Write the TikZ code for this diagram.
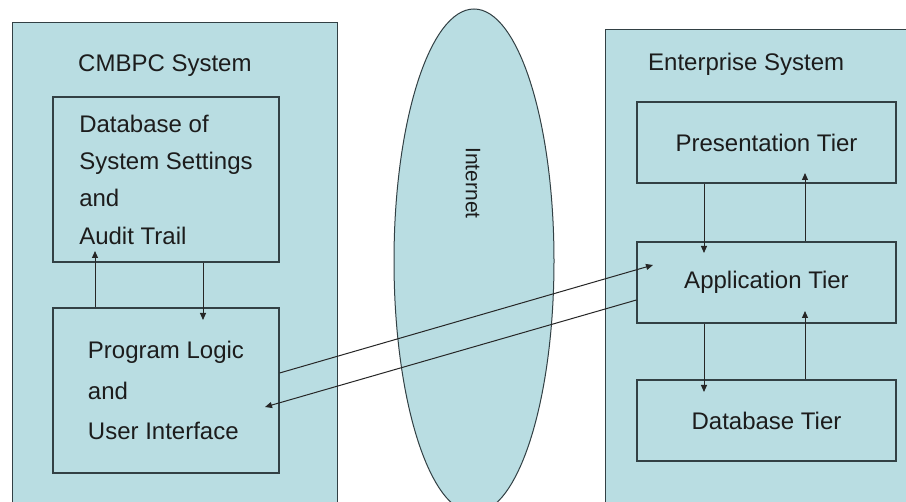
\documentclass[tikz,border=0pt]{standalone}
\usepackage{fontspec}
\setmainfont{Liberation Sans}
\usetikzlibrary{arrows.meta,shapes.geometric}
\definecolor{boxfill}{RGB}{185,221,226}
\definecolor{boxline}{RGB}{50,64,68}
\definecolor{txt}{RGB}{28,28,28}
\begin{document}
\begin{tikzpicture}[x=1pt,y=-1pt,
  outer/.style={draw=boxline, fill=boxfill, line width=1.2pt, inner sep=0pt, anchor=north west},
  inner/.style={draw=boxline, fill=boxfill, line width=1.2pt, inner sep=0pt, text=txt, align=left},
  arr/.style={draw=black!85, line width=1pt, -{Triangle[length=7pt,width=6pt]}},
  ttl/.style={font=\fontsize{24}{28}\selectfont, anchor=base west, text=txt, inner sep=0pt}]
\useasboundingbox (0,0) rectangle (906,502);
\fill[white] (0,0) rectangle (906,502);
\clip (0,0) rectangle (906,502);
% outer system boxes
\node[outer, minimum width=325pt, minimum height=520pt] (cmbpc) at (12,22) {};
\node[outer, minimum width=320pt, minimum height=520pt] (ent) at (605,29) {};
% internet
\node[draw=boxline, fill=boxfill, line width=1pt, ellipse, inner sep=0pt,
      minimum width=160pt, minimum height=504pt] (net) at (474,261) {};
\node[rotate=-90, font=\fontsize{21}{24}\selectfont, text=txt, inner sep=0pt] (netlbl) at (473,183) {Internet};
% titles
\node[ttl] (cmbpctitle) at (78,72) {CMBPC System};
\node[ttl] (enttitle) at (648,71) {Enterprise System};
% left inner boxes
\node[inner, minimum width=226pt, minimum height=165pt, font=\fontsize{24}{37.3}\selectfont]
  (db) at (166,179.5) {Database of\\System Settings\\and\\Audit Trail};
\node[inner, minimum width=226pt, minimum height=165pt, font=\fontsize{24}{40.5}\selectfont]
  (pl) at (166,390.5) {Program Logic\\and\\User Interface};
% right inner boxes
\node[inner, minimum width=259pt, minimum height=81pt, font=\fontsize{24}{28}\selectfont]
  (pres) at (766.5,142.5) {Presentation Tier};
\node[inner, minimum width=259pt, minimum height=81pt, font=\fontsize{24}{28}\selectfont]
  (app) at (766.5,282.5) {Application Tier};
\node[inner, minimum width=259pt, minimum height=81pt, font=\fontsize{24}{28}\selectfont]
  (dbt) at (766.5,420.5) {Database Tier};
% arrow end points
\coordinate (t1) at (95,251);
\coordinate (t2) at (203,320);
\coordinate (t3) at (704,253);
\coordinate (t4) at (805,173);
\coordinate (t5) at (704,392);
\coordinate (t6) at (805,311);
\coordinate (s1) at (0,373);
\coordinate (t7) at (653,265);
\coordinate (s2) at (0,300);
\coordinate (t8) at (265,407);
% connectors
\draw[arr] (pl.north -| t1) -- (t1);
\draw[arr] (db.south -| t2) -- (t2);
\draw[arr] (pres.south -| t3) -- (t3);
\draw[arr] (app.north -| t4) -- (t4);
\draw[arr] (app.south -| t5) -- (t5);
\draw[arr] (dbt.north -| t6) -- (t6);
\draw[arr] (pl.east |- s1) -- (t7);
\draw[arr] (app.west |- s2) -- (t8);
\end{tikzpicture}
\end{document}
